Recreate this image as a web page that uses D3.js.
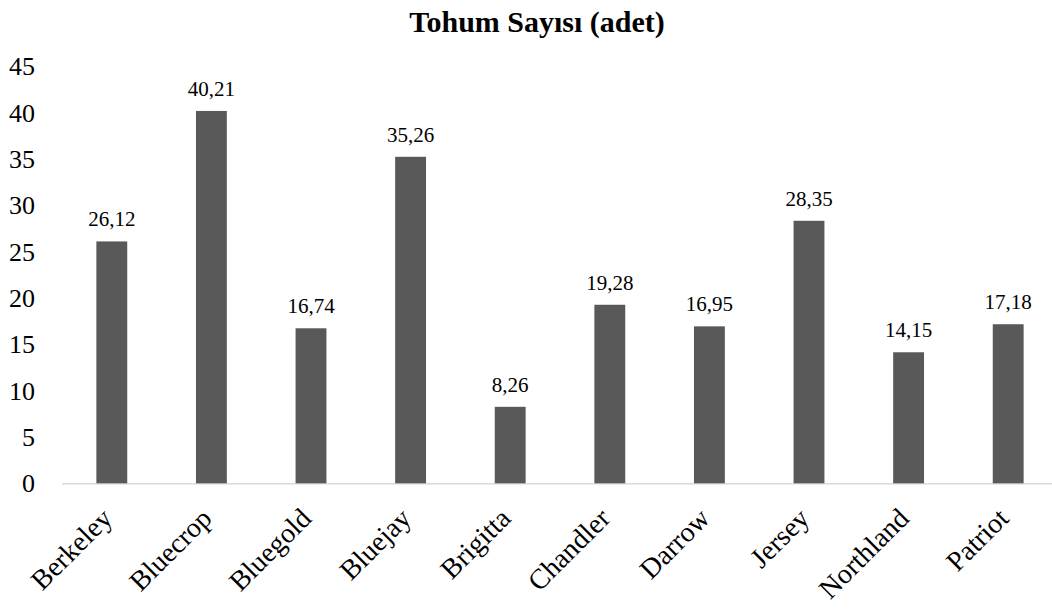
<!DOCTYPE html>
<html><head><meta charset="utf-8">
<script src="https://cdn.jsdelivr.net/npm/d3@7"></script>
<style>body{margin:0;background:#fff}svg{display:block}</style>
</head><body>
<svg id="c" width="1052" height="610"></svg>
<script>
const categories = ["Berkeley","Bluecrop","Bluegold","Bluejay","Brigitta","Chandler","Darrow","Jersey","Northland","Patriot"];
const values = [26.12, 40.21, 16.74, 35.26, 8.26, 19.28, 16.95, 28.35, 14.15, 17.18];
const yTicks = [0,5,10,15,20,25,30,35,40,45];
const title = "Tohum Sayısı (adet)";

const svg = d3.select("#c");
const font = "'Liberation Serif','Times New Roman',serif";
const x = d3.scaleBand().domain(categories).range([62, 1058]).paddingInner(0.69).paddingOuter(0.345);
const y = d3.scaleLinear().domain([0,45]).range([483.3, 66.6]);

svg.append("text").attr("x",537).attr("y",32).attr("text-anchor","middle")
  .style("font-family",font).style("font-weight","bold").style("font-size","30px").text(title);

svg.append("line").attr("x1",62).attr("x2",1052).attr("y1",y(0)+0.5).attr("y2",y(0)+0.5)
  .attr("stroke","#d9d9d9").attr("stroke-width",1.5);

const yAxis = d3.axisLeft(y).tickValues(yTicks).tickSize(0).tickPadding(0);
const gy = svg.append("g").attr("transform","translate(35,0)").call(yAxis);
gy.select(".domain").remove();
gy.selectAll("text").style("font-family",font).style("font-size","26px").attr("fill","#000");

svg.append("g").selectAll("rect").data(values).join("rect")
  .attr("x",(d,i)=>x(categories[i])).attr("width",x.bandwidth())
  .attr("y",d=>y(d)).attr("height",d=>y(0)-y(d)).attr("fill","#595959");

svg.append("g").selectAll("text").data(values).join("text")
  .attr("x",(d,i)=>x(categories[i])+x.bandwidth()/2).attr("y",d=>y(d)-15)
  .attr("text-anchor","middle").style("font-family",font).style("font-size","21px")
  .text(d=>d.toFixed(2).replace(".",","));

const xAxis = d3.axisBottom(x).tickSize(0).tickPadding(0);
const gx = svg.append("g").call(xAxis);
gx.select(".domain").remove();
gx.selectAll(".tick text").attr("y",0).attr("dy",0)
  .attr("transform","translate(2,520) rotate(-45)")
  .attr("text-anchor","end").style("font-family",font).style("font-size","28px").attr("fill","#000");
</script>
</body></html>
